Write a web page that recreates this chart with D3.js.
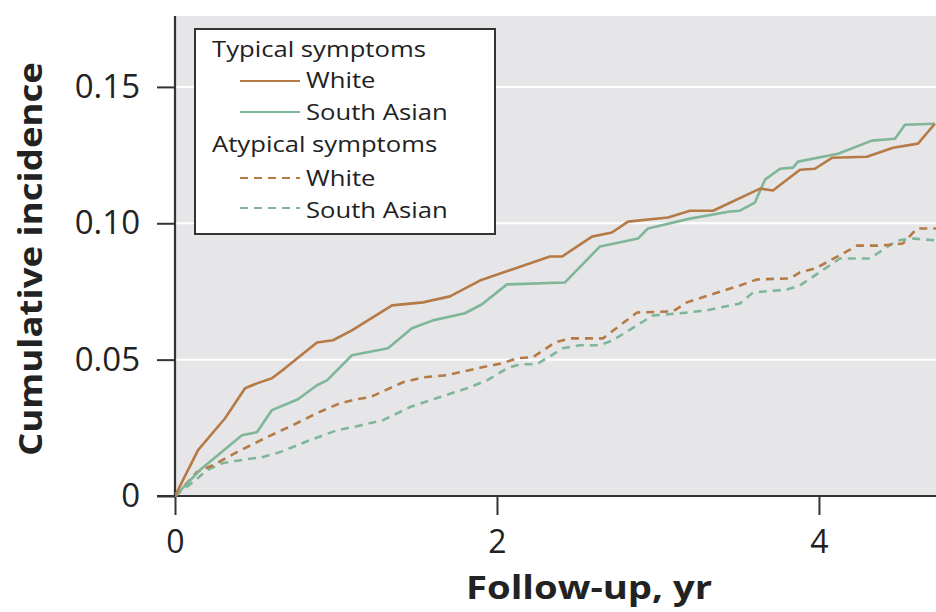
<!DOCTYPE html>
<html><head><meta charset="utf-8">
<script src="https://cdn.jsdelivr.net/npm/d3@7"></script>
<style>
html,body{margin:0;padding:0;background:#fff;}
svg{display:block;font-family:"Open Sans","Noto Sans",sans-serif;}
</style></head>
<body><svg id="c" width="936" height="612"></svg>
<script>
// ---- data ----
const typicalWhite = [[0,0],[0.143,0.0168],[0.311,0.0285],[0.435,0.0395],[0.509,0.0413],[0.602,0.0432],[0.683,0.0468],[0.882,0.0563],[0.981,0.0571],[1.099,0.0607],[1.348,0.0699],[1.540,0.0710],[1.708,0.0732],[1.894,0.0790],[2.329,0.0878],[2.404,0.0878],[2.590,0.0951],[2.714,0.0966],[2.814,0.1006],[3.062,0.1021],[3.199,0.1046],[3.342,0.1046],[3.634,0.1127],[3.714,0.1120],[3.882,0.1196],[3.975,0.1200],[4.081,0.1240],[4.298,0.1244],[4.460,0.1277],[4.615,0.1292],[4.720,0.1365]];
const typicalSouthAsian = [[0,0],[0.155,0.0095],[0.416,0.0223],[0.509,0.0234],[0.602,0.0315],[0.764,0.0355],[0.882,0.0406],[0.944,0.0424],[1.099,0.0516],[1.323,0.0542],[1.472,0.0615],[1.602,0.0644],[1.801,0.0670],[1.907,0.0703],[2.062,0.0776],[2.422,0.0783],[2.640,0.0915],[2.876,0.0944],[2.938,0.0981],[3.199,0.1017],[3.447,0.1043],[3.509,0.1046],[3.602,0.1076],[3.665,0.1160],[3.758,0.1200],[3.839,0.1204],[3.870,0.1226],[4.118,0.1255],[4.329,0.1303],[4.472,0.1310],[4.534,0.1361],[4.720,0.1365]];
const atypicalWhite = [[0,0],[0.137,0.0088],[0.236,0.0113],[0.385,0.0161],[0.571,0.0216],[0.733,0.0260],[0.882,0.0304],[1.025,0.0340],[1.130,0.0355],[1.211,0.0362],[1.416,0.0417],[1.540,0.0435],[1.689,0.0443],[1.907,0.0472],[2.037,0.0487],[2.124,0.0505],[2.224,0.0509],[2.360,0.0563],[2.453,0.0578],[2.658,0.0578],[2.870,0.0673],[3.093,0.0677],[3.180,0.0710],[3.509,0.0772],[3.615,0.0794],[3.820,0.0798],[3.882,0.0820],[3.975,0.0834],[4.149,0.0889],[4.236,0.0918],[4.379,0.0918],[4.522,0.0926],[4.609,0.0981],[4.727,0.0981]];
const atypicalSouthAsian = [[0,0],[0.112,0.0051],[0.199,0.0095],[0.298,0.0121],[0.447,0.0135],[0.547,0.0143],[0.652,0.0161],[0.839,0.0205],[1.006,0.0241],[1.130,0.0256],[1.292,0.0278],[1.460,0.0326],[1.627,0.0359],[1.814,0.0395],[1.938,0.0424],[2.062,0.0468],[2.143,0.0483],[2.248,0.0483],[2.410,0.0542],[2.516,0.0553],[2.640,0.0553],[2.720,0.0571],[2.969,0.0662],[3.137,0.0670],[3.304,0.0681],[3.509,0.0706],[3.590,0.0746],[3.801,0.0757],[3.882,0.0772],[4.130,0.0871],[4.317,0.0871],[4.484,0.0937],[4.584,0.0944],[4.727,0.0937]];
const xTicks = [0, 2, 4];
const xTickLabels = ["0", "2", "4"];
const yTicks = [0, 0.05, 0.10, 0.15];
const yTickLabels = ["0", "0.05", "0.10", "0.15"];
const xTitle = "Follow-up, yr";
const yTitle = "Cumulative incidence";
const legendGroups = ["Typical symptoms", "Atypical symptoms"];
const legendItems = ["White", "South Asian"];

// ---- layout ----
const BROWN = "#b57a46", GREEN = "#7fb698";
const svg = d3.select("#c");
const L = 175, R = 936, T = 16, B = 496;
const x = d3.scaleLinear().domain([0, 4.727]).range([L, R]);
const y = d3.scaleLinear().domain([0, 0.176]).range([B, T]);

function stretch(sel, k) {
  sel.each(function () {
    const w = this.getComputedTextLength();
    d3.select(this).attr("textLength", w * k).attr("lengthAdjust", "spacingAndGlyphs");
  });
}

svg.append("rect").attr("x", L).attr("y", T).attr("width", R - L).attr("height", B - T).attr("fill", "#e6e6e8");

// gridlines
svg.append("g").selectAll("line").data(yTicks.slice(1)).join("line")
  .attr("x1", L).attr("x2", R).attr("y1", d => y(d)).attr("y2", d => y(d))
  .attr("stroke", "#fff").attr("stroke-width", 2);

// axes
const yAxis = svg.append("g").attr("transform", `translate(${L},0)`)
  .call(d3.axisLeft(y).tickValues(yTicks).tickFormat((d, i) => yTickLabels[i]).tickSize(18).tickPadding(17));
const xAxis = svg.append("g").attr("transform", `translate(0,${B})`)
  .call(d3.axisBottom(x).tickValues(xTicks).tickFormat((d, i) => xTickLabels[i]).tickSize(19).tickPadding(15));
[yAxis, xAxis].forEach(g => {
  g.select(".domain").attr("stroke", "#333").attr("stroke-width", 2.2);
  g.selectAll(".tick line").attr("stroke", "#333").attr("stroke-width", 2);
  g.selectAll(".tick text").attr("fill", "#222").style("font-size", "33px").style("font-family", '"Open Sans",sans-serif');
});
xAxis.selectAll(".tick text").style("font-size", "32px");
yAxis.select(".domain").attr("d", `M0,${T}V${B}`);
xAxis.select(".domain").attr("d", `M${L - 18},0H${R}`);

// lines
const line = d3.line().x(d => x(d[0])).y(d => y(d[1]));
const series = [
  {data: typicalWhite, color: BROWN, dash: null},
  {data: typicalSouthAsian, color: GREEN, dash: null},
  {data: atypicalWhite, color: BROWN, dash: "8,6"},
  {data: atypicalSouthAsian, color: GREEN, dash: "8,6"}
];
svg.append("clipPath").attr("id", "clip").append("rect").attr("x", L).attr("y", T).attr("width", R - L).attr("height", B - T + 2);
const lg = svg.append("g").attr("clip-path", "url(#clip)");
series.slice().reverse().forEach(s => {
  lg.append("path").attr("d", line(s.data)).attr("fill", "none")
    .attr("stroke", s.color).attr("stroke-width", 2.6)
    .attr("stroke-dasharray", s.dash).attr("stroke-linejoin", "round");
});

// legend
const leg = svg.append("g");
leg.append("rect").attr("x", 195).attr("y", 29).attr("width", 300).attr("height", 205)
  .attr("fill", "#fff").attr("stroke", "#333").attr("stroke-width", 2);
const legRows = [
  {text: legendGroups[0], x: 212, y: 57},
  {text: legendItems[0], x: 306, y: 88, color: BROWN, dash: null, ly: 81},
  {text: legendItems[1], x: 306, y: 120, color: GREEN, dash: null, ly: 112},
  {text: legendGroups[1], x: 212, y: 152},
  {text: legendItems[0], x: 306, y: 186, color: BROWN, dash: "8,6", ly: 178},
  {text: legendItems[1], x: 306, y: 218, color: GREEN, dash: "8,6", ly: 208}
];
legRows.forEach(r => {
  const t = leg.append("text").attr("x", r.x).attr("y", r.y).text(r.text)
    .attr("fill", "#222").style("font-size", "22.5px");
  stretch(t, 1.14);
  if (r.color) {
    leg.append("line").attr("x1", 240).attr("x2", 300).attr("y1", r.ly).attr("y2", r.ly)
      .attr("stroke", r.color).attr("stroke-width", 2).attr("stroke-dasharray", r.dash);
  }
});

// titles
svg.append("text").attr("x", 589).attr("y", 599).attr("text-anchor", "middle")
  .attr("fill", "#222").style("font-size", "32px").style("font-weight", "bold").text(xTitle)
  .attr("textLength", 246).attr("lengthAdjust", "spacingAndGlyphs");
svg.append("text").attr("transform", "translate(42,259) rotate(-90)").attr("text-anchor", "middle")
  .attr("fill", "#222").style("font-size", "33px").style("font-weight", "bold").text(yTitle)
  .attr("textLength", 394).attr("lengthAdjust", "spacingAndGlyphs");
</script></body></html>
